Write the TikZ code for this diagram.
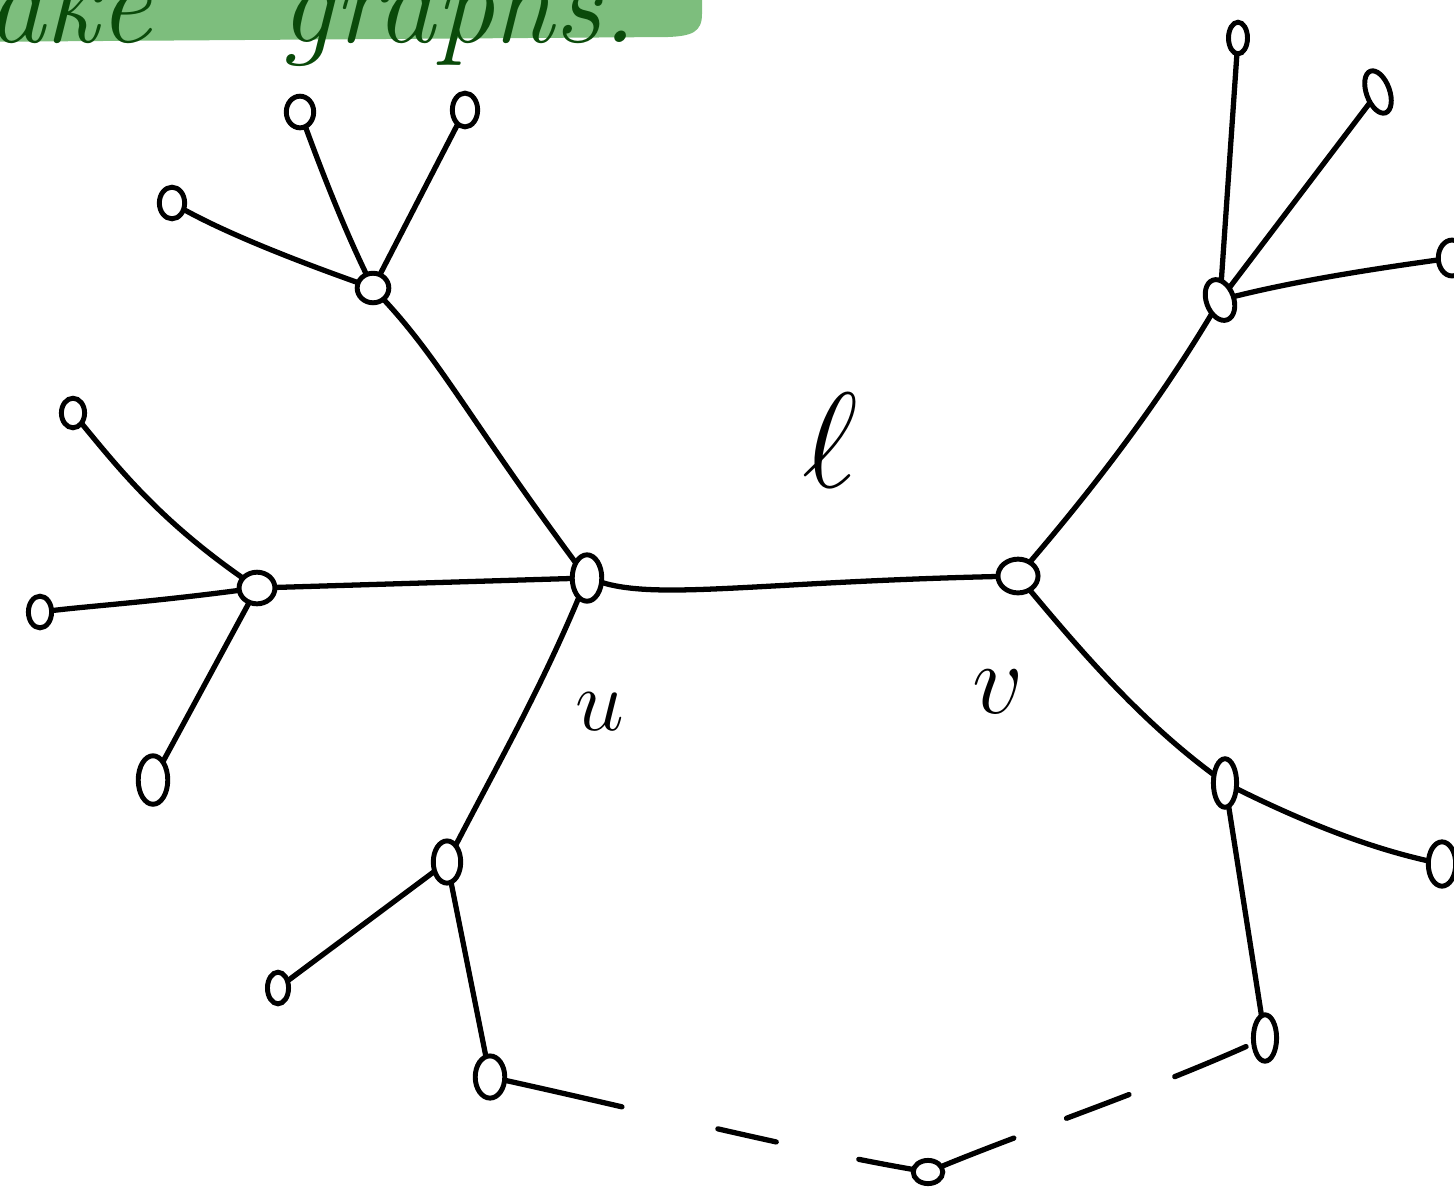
\documentclass[tikz,border=0pt]{standalone}
\usetikzlibrary{shapes.geometric}
\definecolor{hl}{HTML}{7DBE7D}
\definecolor{ink}{HTML}{0A4A0A}
\begin{document}
\begin{tikzpicture}[x=0.01cm,y=-0.01cm,
  nd/.style={draw, ellipse, line width=1.4pt, inner sep=0pt, minimum width=#1},
  edge/.style={line width=1.5pt, line cap=round},
  lbl/.style={inner sep=0pt}]
\useasboundingbox (0,0) rectangle (1454,1199);
\clip (0,0) rectangle (1454,1199);
% highlighted banner
\fill[hl] (-40,-40) -- (702,-40) -- (702,14) .. controls (702,32) and (692,36) .. (668,37) -- (-40,42) -- cycle;
\node[lbl, anchor=base west, text=ink, font=\Huge\itshape] (t1) at (-14,42) {\scalebox{1.35}{ake}};
\node[lbl, anchor=base west, text=ink, font=\Huge\itshape] (t2) at (280,42) {\scalebox{1.35}{graphs.}};
% vertices
\node[nd=28pt, minimum height=44pt, scale=0.3] (u) at (587,578) {};
\node[nd=38pt, minimum height=32pt, scale=0.3] (v) at (1018,576) {};
\node[nd=34pt, minimum height=30pt, scale=0.3] (a) at (257,588) {};
\node[nd=22pt, minimum height=30pt, scale=0.3] (a1) at (40,612) {};
\node[nd=28pt, minimum height=46pt, scale=0.3] (a2) at (153,780) {};
\node[nd=22pt, minimum height=28pt, scale=0.3] (a3) at (73,413) {};
\node[nd=30pt, minimum height=28pt, scale=0.3] (b) at (373,288) {};
\node[nd=24pt, minimum height=30pt, scale=0.3] (b1) at (172,203) {};
\node[nd=26pt, minimum height=30pt, scale=0.3] (b2) at (300,112) {};
\node[nd=24pt, minimum height=32pt, scale=0.3] (b3) at (465,110) {};
\node[nd=26pt, minimum height=40pt, scale=0.3] (c) at (447,862) {};
\node[nd=20pt, minimum height=30pt, scale=0.3] (c1) at (278,988) {};
\node[nd=28pt, minimum height=40pt, scale=0.3] (d) at (490,1077) {};
\node[nd=26pt, minimum height=40pt, scale=0.3, rotate=20] (e) at (1220,300) {};
\node[nd=18pt, minimum height=30pt, scale=0.3] (e1) at (1238,38) {};
\node[nd=22pt, minimum height=42pt, scale=0.3, rotate=20] (e2) at (1378,92) {};
\node[nd=26pt, minimum height=34pt, scale=0.3] (e3) at (1452,258) {};
\node[nd=22pt, minimum height=46pt, scale=0.3] (f) at (1225,783) {};
\node[nd=26pt, minimum height=42pt, scale=0.3] (f1) at (1442,864) {};
\node[nd=22pt, minimum height=44pt, scale=0.3] (g) at (1265,1038) {};
\node[nd=28pt, minimum height=22pt, scale=0.3] (h) at (928,1172) {};
% edges
\draw[edge] (u) .. controls (660,600) and (760,582) .. (v);
\draw[edge] (a) -- (u);
\draw[edge] (a) .. controls (150,602) and (90,606) .. (a1);
\draw[edge] (a) -- (a2);
\draw[edge] (a) .. controls (160,520) and (120,470) .. (a3);
\draw[edge] (b) .. controls (440,360) and (470,420) .. (u);
\draw[edge] (b) .. controls (300,262) and (230,235) .. (b1);
\draw[edge] (b) .. controls (345,230) and (325,180) .. (b2);
\draw[edge] (b) -- (b3);
\draw[edge] (u) .. controls (540,690) and (500,760) .. (c);
\draw[edge] (c) -- (c1);
\draw[edge] (c) -- (d);
\draw[edge] (v) .. controls (1100,480) and (1160,400) .. (e);
\draw[edge] (e) -- (e1);
\draw[edge] (e) -- (e2);
\draw[edge] (e) .. controls (1300,280) and (1380,268) .. (e3);
\draw[edge] (v) .. controls (1080,650) and (1140,720) .. (f);
\draw[edge] (f) .. controls (1320,830) and (1380,850) .. (f1);
\draw[edge] (f) -- (g);
\draw[edge, dash pattern=on 34pt off 28pt on 17pt off 24pt] (d) .. controls (640,1110) and (800,1150) .. (h);
\draw[edge, dash pattern=on 22pt off 16pt on 19pt off 14pt] (h) .. controls (1030,1130) and (1150,1090) .. (g);
% labels
\node[lbl, font=\Huge] (ell) at (830,440) {\scalebox{1.55}{$\ell$}};
\node[lbl, font=\Huge] (lu) at (600,712) {$u$};
\node[lbl, font=\Huge] (lv) at (998,692) {\scalebox{1.15}{$v$}};
\end{tikzpicture}
\end{document}
